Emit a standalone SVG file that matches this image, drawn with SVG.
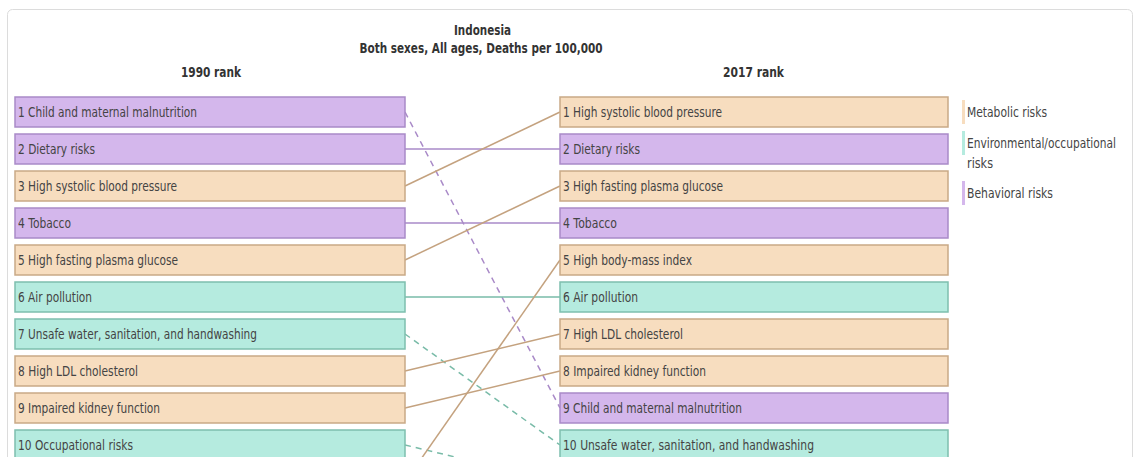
<svg xmlns="http://www.w3.org/2000/svg" width="1138" height="457" viewBox="0 0 1138 457">
<style>
text{font-family:"DejaVu Sans",sans-serif;fill:#444;}
.t{font-size:14px;font-weight:bold;text-anchor:middle;fill:#333;}
.lbl{font-size:14.5px;dominant-baseline:central;}
.met rect{fill:#f7ddbf;stroke:#c9a986;stroke-width:1.5;}
.beh rect{fill:#d4b7ec;stroke:#a98ac8;stroke-width:1.5;}
.env rect{fill:#b5ebdf;stroke:#7ebfae;stroke-width:1.5;}
.c{fill:none;stroke-width:1.5;}
.cm{stroke:#c4a27f;}
.cb{stroke:#a98ac8;}
.ce{stroke:#79bba8;}
.d{stroke-dasharray:6 5;}
</style>
<rect x="7.5" y="9.5" width="1125" height="470" rx="5" fill="#fff" stroke="#dcdcdc" stroke-width="1"/>
<text class="t" x="482.5" y="35" textLength="57" lengthAdjust="spacingAndGlyphs">Indonesia</text>
<text class="t" x="481" y="53" textLength="243" lengthAdjust="spacingAndGlyphs">Both sexes, All ages, Deaths per 100,000</text>
<text class="t" x="211" y="77" textLength="60" lengthAdjust="spacingAndGlyphs">1990 rank</text>
<text class="t" x="753.5" y="77" textLength="61" lengthAdjust="spacingAndGlyphs">2017 rank</text>
<g id="connectors">
<line class="c cb d" x1="405" y1="112" x2="560" y2="408"/>
<line class="c cb" x1="405" y1="149" x2="560" y2="149"/>
<line class="c cm" x1="405" y1="186" x2="560" y2="112"/>
<line class="c cb" x1="405" y1="223" x2="560" y2="223"/>
<line class="c cm" x1="405" y1="260" x2="560" y2="186"/>
<line class="c ce" x1="405" y1="297" x2="560" y2="297"/>
<line class="c ce d" x1="405" y1="334" x2="560" y2="445"/>
<line class="c cm" x1="405" y1="371" x2="560" y2="334"/>
<line class="c cm" x1="405" y1="408" x2="560" y2="371"/>
<line class="c ce d" x1="405" y1="445" x2="560" y2="482"/>
<line class="c cm" x1="405" y1="482" x2="560" y2="260"/>
</g>
<g id="l1" class="beh"><rect x="15" y="97" width="390" height="30"/><text class="lbl" x="18" y="112" textLength="179" lengthAdjust="spacingAndGlyphs">1 Child and maternal malnutrition</text></g>
<g id="l2" class="beh"><rect x="15" y="134" width="390" height="30"/><text class="lbl" x="18" y="149" textLength="77" lengthAdjust="spacingAndGlyphs">2 Dietary risks</text></g>
<g id="l3" class="met"><rect x="15" y="171" width="390" height="30"/><text class="lbl" x="18" y="186" textLength="159" lengthAdjust="spacingAndGlyphs">3 High systolic blood pressure</text></g>
<g id="l4" class="beh"><rect x="15" y="208" width="390" height="30"/><text class="lbl" x="18" y="223" textLength="53" lengthAdjust="spacingAndGlyphs">4 Tobacco</text></g>
<g id="l5" class="met"><rect x="15" y="245" width="390" height="30"/><text class="lbl" x="18" y="260" textLength="160" lengthAdjust="spacingAndGlyphs">5 High fasting plasma glucose</text></g>
<g id="l6" class="env"><rect x="15" y="282" width="390" height="30"/><text class="lbl" x="18" y="297" textLength="74" lengthAdjust="spacingAndGlyphs">6 Air pollution</text></g>
<g id="l7" class="env"><rect x="15" y="319" width="390" height="30"/><text class="lbl" x="18" y="334" textLength="239" lengthAdjust="spacingAndGlyphs">7 Unsafe water, sanitation, and handwashing</text></g>
<g id="l8" class="met"><rect x="15" y="356" width="390" height="30"/><text class="lbl" x="18" y="371" textLength="120" lengthAdjust="spacingAndGlyphs">8 High LDL cholesterol</text></g>
<g id="l9" class="met"><rect x="15" y="393" width="390" height="30"/><text class="lbl" x="18" y="408" textLength="142" lengthAdjust="spacingAndGlyphs">9 Impaired kidney function</text></g>
<g id="l10" class="env"><rect x="15" y="430" width="390" height="30"/><text class="lbl" x="18" y="445" textLength="115" lengthAdjust="spacingAndGlyphs">10 Occupational risks</text></g>
<g id="r1" class="met"><rect x="560" y="97" width="388" height="30"/><text class="lbl" x="563" y="112" textLength="159" lengthAdjust="spacingAndGlyphs">1 High systolic blood pressure</text></g>
<g id="r2" class="beh"><rect x="560" y="134" width="388" height="30"/><text class="lbl" x="563" y="149" textLength="77" lengthAdjust="spacingAndGlyphs">2 Dietary risks</text></g>
<g id="r3" class="met"><rect x="560" y="171" width="388" height="30"/><text class="lbl" x="563" y="186" textLength="160" lengthAdjust="spacingAndGlyphs">3 High fasting plasma glucose</text></g>
<g id="r4" class="beh"><rect x="560" y="208" width="388" height="30"/><text class="lbl" x="563" y="223" textLength="54" lengthAdjust="spacingAndGlyphs">4 Tobacco</text></g>
<g id="r5" class="met"><rect x="560" y="245" width="388" height="30"/><text class="lbl" x="563" y="260" textLength="129" lengthAdjust="spacingAndGlyphs">5 High body-mass index</text></g>
<g id="r6" class="env"><rect x="560" y="282" width="388" height="30"/><text class="lbl" x="563" y="297" textLength="75" lengthAdjust="spacingAndGlyphs">6 Air pollution</text></g>
<g id="r7" class="met"><rect x="560" y="319" width="388" height="30"/><text class="lbl" x="563" y="334" textLength="120" lengthAdjust="spacingAndGlyphs">7 High LDL cholesterol</text></g>
<g id="r8" class="met"><rect x="560" y="356" width="388" height="30"/><text class="lbl" x="563" y="371" textLength="143" lengthAdjust="spacingAndGlyphs">8 Impaired kidney function</text></g>
<g id="r9" class="beh"><rect x="560" y="393" width="388" height="30"/><text class="lbl" x="563" y="408" textLength="179" lengthAdjust="spacingAndGlyphs">9 Child and maternal malnutrition</text></g>
<g id="r10" class="env"><rect x="560" y="430" width="388" height="30"/><text class="lbl" x="563" y="445" textLength="251" lengthAdjust="spacingAndGlyphs">10 Unsafe water, sanitation, and handwashing</text></g>
<g id="legend">
<rect x="962" y="100" width="3" height="24" fill="#f7ddbf"/>
<text class="lbl" x="967" y="112" textLength="80" lengthAdjust="spacingAndGlyphs">Metabolic risks</text>
<rect x="962" y="131" width="3" height="24" fill="#b5ebdf"/>
<text class="lbl" x="967" y="143" style="font-size:13.2px" textLength="149" lengthAdjust="spacingAndGlyphs">Environmental/occupational</text>
<text class="lbl" x="967" y="163" textLength="26" lengthAdjust="spacingAndGlyphs">risks</text>
<rect x="962" y="181" width="3" height="24" fill="#d4b7ec"/>
<text class="lbl" x="967" y="193" textLength="86" lengthAdjust="spacingAndGlyphs">Behavioral risks</text>
</g>
</svg>
